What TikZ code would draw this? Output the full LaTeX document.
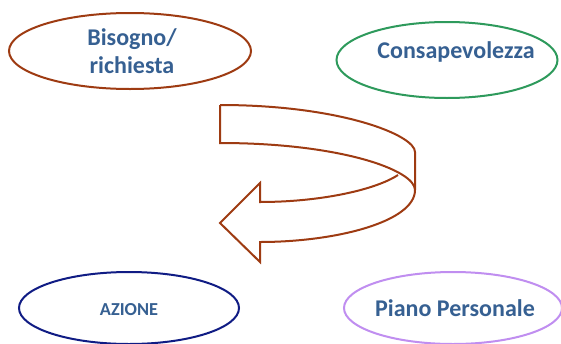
\documentclass[tikz,border=0pt]{standalone}
\usepackage{fontspec}
\setmainfont{Carlito}
\usetikzlibrary{shapes.geometric}
\definecolor{brownc}{HTML}{9E3B12}
\definecolor{greenc}{HTML}{2E9A5C}
\definecolor{navyc}{HTML}{101C84}
\definecolor{lavc}{HTML}{C08EF0}
\definecolor{txtc}{HTML}{366092}
\tikzset{
  oval/.style={ellipse, draw=#1, line width=2pt, inner sep=0pt, fill=white},
  lbl/.style={text=txtc, font=\bfseries\fontsize{24}{28}\selectfont, inner sep=0pt, anchor=base, align=center},
  arrowline/.style={draw=brownc, line width=2pt, line join=miter},
}
\begin{document}
\begin{tikzpicture}[x=1pt,y=-1pt]
\useasboundingbox (0,0) rectangle (561,343);
\node[oval=brownc, minimum width=242pt, minimum height=76pt] (bis) at (130,51) {};
\node[oval=greenc, minimum width=221pt, minimum height=76pt] (con) at (447,60) {};
\node[oval=navyc, minimum width=220pt, minimum height=72pt] (azi) at (129,308) {};
\node[oval=lavc, minimum width=218pt, minimum height=72pt] (pia) at (453,308) {};
\node[lbl] (bist) at (132,73) {Bisogno/\\richiesta};
\node[lbl] (cont) at (456,58) {Consapevolezza};
\node[lbl, font=\bfseries\fontsize{18.3}{20}\selectfont] (azit) at (129,315) {AZIONE};
\node[lbl] (piat) at (455,316.5) {Piano Personale};
\fill[white] (220,105) .. controls (340,105) and (415,135) .. (415,152) -- (415,190) .. controls (415,222) and (335,242) .. (260,242) -- (260,262) -- (220,223) -- (260,183) -- (260,202) .. controls (320,202) and (375,190) .. (398,175) -- (220,143) -- cycle;
\path[arrowline] (220,105) .. controls (340,105) and (415,135) .. (415,152) -- (415,190) .. controls (415,222) and (335,242) .. (260,242) -- (260,262) -- (220,223) -- (260,183) -- (260,202) .. controls (320,202) and (375,190) .. (398,175);
\path[arrowline] (220,105) -- (220,143) .. controls (340,143) and (415,170) .. (415,190);
\end{tikzpicture}
\end{document}
